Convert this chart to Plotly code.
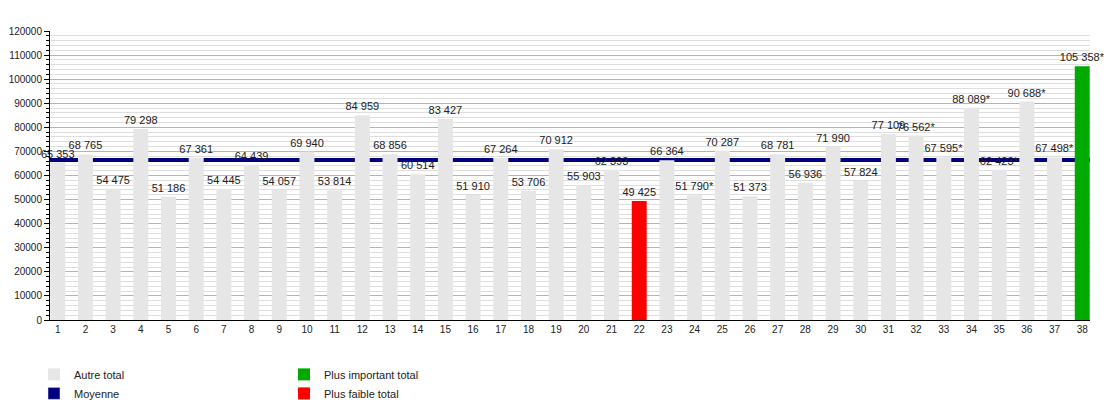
import plotly.graph_objects as go

# 데이터
rangs = list(range(1, 39))
totaux = [65353, 68765, 54475, 79298, 51186, 67361, 54445, 64439, 54057, 69940,
          53814, 84959, 68856, 60514, 83427, 51910, 67264, 53706, 70912, 55903,
          62393, 49425, 66364, 51790, 70287, 51373, 68781, 56936, 71990, 57824,
          77109, 76562, 67595, 88089, 62423, 90688, 67498, 105358]
# valeurs marquées d'un astérisque
avec_etoile = [24, 32, 33, 34, 35, 36, 37, 38]

moyenne = sum(totaux) / len(totaux)
i_max = totaux.index(max(totaux))
i_min = totaux.index(min(totaux))


def label(rang, val):
    txt = f"{val:,}".replace(",", " ")
    return txt + ("*" if rang in avec_etoile else "")


labels = [label(r, v) for r, v in zip(rangs, totaux)]

autres = [i for i in range(len(totaux)) if i not in (i_max, i_min)]

FONT = "Liberation Sans, Arial, sans-serif"

fig = go.Figure()

# ligne de moyenne sur l'axe principal -> dessinée sous les barres (axe y2 superposé)
fig.add_trace(go.Scatter(x=[0.72, 38.28], y=[moyenne, moyenne], mode="lines",
                         line=dict(color="#000080", width=4), showlegend=False,
                         hoverinfo="skip", xaxis="x", yaxis="y"))

bar_style = dict(width=0.54, textposition="outside", cliponaxis=False,
                 constraintext="none", textfont=dict(size=11, color="#222222"),
                 marker_line_width=0, yaxis="y2")

fig.add_trace(go.Bar(x=[rangs[i] for i in autres], y=[totaux[i] for i in autres],
                     text=[labels[i] for i in autres], marker_color="#e6e6e6",
                     name="Autre total", legend="legend", **bar_style))
fig.add_trace(go.Bar(x=[None], y=[None], marker_color="#000080",
                     name="Moyenne", legend="legend", yaxis="y2"))
fig.add_trace(go.Bar(x=[rangs[i_max]], y=[totaux[i_max]], text=[labels[i_max]],
                     marker_color="#00aa00", name="Plus important total",
                     legend="legend2", **bar_style))
fig.add_trace(go.Bar(x=[rangs[i_min]], y=[totaux[i_min]], text=[labels[i_min]],
                     marker_color="#ff0000", name="Plus faible total",
                     legend="legend2", **bar_style))

legend_style = dict(orientation="v", yanchor="top", y=-0.138, bgcolor="rgba(0,0,0,0)",
                    font=dict(size=11, color="#222222", family=FONT),
                    traceorder="normal", itemclick=False)

# la page ajoute une marge de 8px autour du graphique -> taille réduite d'autant
fig.update_layout(
    width=1112, height=392,
    barmode="overlay",
    plot_bgcolor="white", paper_bgcolor="white",
    font=dict(family=FONT, size=10, color="#222222"),
    margin=dict(l=42, r=30, t=23, b=80, autoexpand=False),
    legend=dict(x=-0.0154, **legend_style),
    legend2=dict(x=0.225, **legend_style),
    xaxis=dict(range=[0.72, 38.28], tickmode="array", tickvals=rangs,
               ticktext=[str(r) for r in rangs], showline=True, linecolor="black",
               linewidth=1, showgrid=False, ticks="", zeroline=False,
               tickfont=dict(size=10)),
    yaxis=dict(range=[0, 120000], dtick=10000, tickformat="d", showline=True,
               linecolor="black", linewidth=1, ticks="outside", ticklen=5,
               tickcolor="black", showgrid=True, gridcolor="#b4b4b4", gridwidth=1,
               zeroline=False, tickfont=dict(size=10),
               minor=dict(dtick=2000, showgrid=True, gridcolor="#dedede",
                          ticks="outside", ticklen=3, tickcolor="black")),
    yaxis2=dict(range=[0, 120000], overlaying="y", visible=False, showgrid=False,
                zeroline=False),
)

fig.write_html("out.html")
